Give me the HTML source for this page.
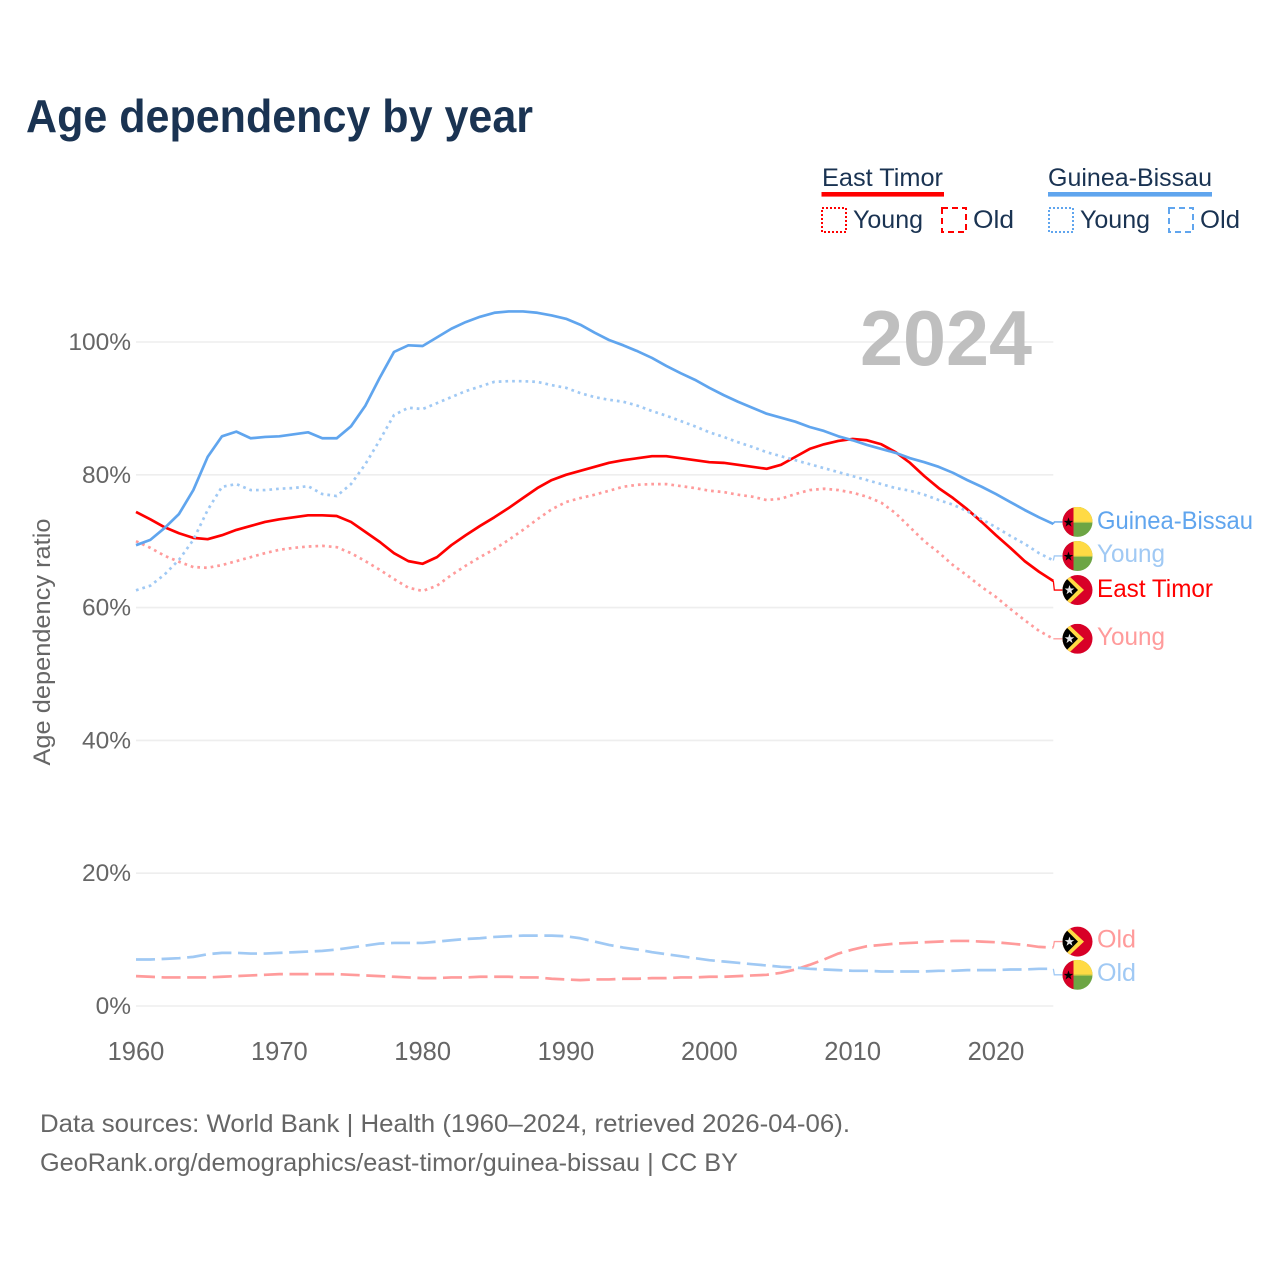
<!DOCTYPE html>
<html lang="en">
<head>
<meta charset="utf-8">
<title>Age dependency by year</title>
<style>
html,body{margin:0;padding:0;background:#fff;}
svg{display:block;font-family:"Liberation Sans",sans-serif;}
</style>
</head>
<body>
<svg id="chart" xmlns="http://www.w3.org/2000/svg" width="1280" height="1280" viewBox="0 0 1280 1280">
<defs>
<clipPath id="flag-clip"><circle cx="0" cy="0" r="15"/></clipPath>
<g id="flag-gb" clip-path="url(#flag-clip)">
<rect x="-15" y="-15" width="30" height="30" fill="#6da544"/>
<rect x="-4" y="-15" width="19" height="15" fill="#ffda44"/>
<rect x="-4" y="0" width="19" height="1" fill="#b9c64a"/>
<rect x="-15" y="-15" width="11" height="30" fill="#d80027"/>
<polygon points="-9,-4.5 -7.8,-1 -4.2,-1 -7.1,1.2 -6,4.7 -9,2.6 -12,4.7 -10.9,1.2 -13.8,-1 -10.2,-1" fill="#000"/>
</g>
<g id="flag-et" clip-path="url(#flag-clip)">
<rect x="-15" y="-15" width="30" height="30" fill="#d80027"/>
<polygon points="-15,-15 -9.5,-15 6.5,0 -9.5,15 -15,15" fill="#ffda44"/>
<polygon points="-15,-15 -14.5,-15 0.5,0 -14.5,15 -15,15" fill="#000"/>
<polygon points="-8,-5 -6.8,-1.5 -3.2,-1.5 -6.1,0.7 -5,4.2 -8,2.1 -11,4.2 -9.9,0.7 -12.8,-1.5 -9.2,-1.5" fill="#e6e6e6"/>
</g>
</defs>

<rect x="0" y="0" width="1280" height="1280" fill="#fff"/>

<text x="26" y="132" font-size="46" font-weight="700" fill="#1a3352" textLength="507" lengthAdjust="spacingAndGlyphs">Age dependency by year</text>

<g font-size="25" fill="#1a3352">
  <text x="822" y="186" textLength="121" lengthAdjust="spacingAndGlyphs">East Timor</text>
  <rect x="821.5" y="192" width="122.5" height="4.6" fill="#ff0000"/>
  <rect x="822" y="208" width="24" height="24" fill="none" stroke="#ff0000" stroke-width="2" stroke-dasharray="2 2"/>
  <text x="853" y="228" textLength="70" lengthAdjust="spacingAndGlyphs">Young</text>
  <rect x="942" y="208" width="24" height="24" fill="none" stroke="#ff0000" stroke-width="2" stroke-dasharray="6 4"/>
  <text x="973" y="228" textLength="41" lengthAdjust="spacingAndGlyphs">Old</text>
  <text x="1048" y="186" textLength="164" lengthAdjust="spacingAndGlyphs">Guinea-Bissau</text>
  <rect x="1048" y="192" width="164" height="4.6" fill="#60a5ee"/>
  <rect x="1049" y="208" width="24" height="24" fill="none" stroke="#60a5ee" stroke-width="2" stroke-dasharray="2 2"/>
  <text x="1080" y="228" textLength="70" lengthAdjust="spacingAndGlyphs">Young</text>
  <rect x="1169" y="208" width="24" height="24" fill="none" stroke="#60a5ee" stroke-width="2" stroke-dasharray="6 4"/>
  <text x="1200" y="228" textLength="40" lengthAdjust="spacingAndGlyphs">Old</text>
</g>

<g id="grid"></g>
<g id="y-ticks"></g>
<g id="x-ticks"></g>

<text x="860" y="365" font-size="78" font-weight="700" fill="#bfbfbf" textLength="172" lengthAdjust="spacingAndGlyphs">2024</text>

<text transform="translate(50,642) rotate(-90)" text-anchor="middle" font-size="24" fill="#666" textLength="247" lengthAdjust="spacingAndGlyphs">Age dependency ratio</text>

<g id="series"></g>

<g id="end-et-total">
  <use href="#flag-et" x="1077.5" y="0"/>
  <text x="1097" y="7" font-size="25" fill="#ff0000" textLength="116" lengthAdjust="spacingAndGlyphs">East Timor</text>
</g>
<g id="end-et-young">
  <use href="#flag-et" x="1077.5" y="0"/>
  <text x="1097" y="6" font-size="25" fill="#ff9b9b" textLength="68" lengthAdjust="spacingAndGlyphs">Young</text>
</g>
<g id="end-et-old">
  <use href="#flag-et" x="1077.5" y="0"/>
  <text x="1097" y="6" font-size="25" fill="#ff9b9b" textLength="39" lengthAdjust="spacingAndGlyphs">Old</text>
</g>
<g id="end-gb-total">
  <use href="#flag-gb" x="1077.5" y="0"/>
  <text x="1097" y="7" font-size="25" fill="#60a5ee" textLength="156" lengthAdjust="spacingAndGlyphs">Guinea-Bissau</text>
</g>
<g id="end-gb-young">
  <use href="#flag-gb" x="1077.5" y="0"/>
  <text x="1097" y="6" font-size="25" fill="#a0c9f4" textLength="68" lengthAdjust="spacingAndGlyphs">Young</text>
</g>
<g id="end-gb-old">
  <use href="#flag-gb" x="1077.5" y="0"/>
  <text x="1097" y="6" font-size="25" fill="#a0c9f4" textLength="39" lengthAdjust="spacingAndGlyphs">Old</text>
</g>

<g font-size="25" fill="#666">
  <text x="40" y="1132" textLength="810" lengthAdjust="spacingAndGlyphs">Data sources: World Bank | Health (1960–2024, retrieved 2026-04-06).</text>
  <text x="40" y="1171" textLength="698" lengthAdjust="spacingAndGlyphs">GeoRank.org/demographics/east-timor/guinea-bissau | CC BY</text>
</g>

<script>
var startYear = 1960;
var xTickYears = [1960, 1970, 1980, 1990, 2000, 2010, 2020];
var yTickValues = [0, 20, 40, 60, 80, 100];

var eastTimorTotal = [74.4,73.3,72.1,71.2,70.5,70.3,70.9,71.7,72.3,72.9,73.3,73.6,73.9,73.9,73.8,72.9,71.4,69.9,68.2,67.0,66.6,67.6,69.4,70.9,72.3,73.6,75.0,76.5,78.0,79.2,80.0,80.6,81.2,81.8,82.2,82.5,82.8,82.8,82.5,82.2,81.9,81.8,81.5,81.2,80.9,81.5,82.7,83.9,84.6,85.1,85.4,85.2,84.6,83.4,81.8,79.8,78.0,76.5,74.8,72.9,70.9,69.0,67.0,65.4,64.0];
var eastTimorYoung = [70.0,69.0,67.8,66.9,66.1,66.0,66.4,67.0,67.6,68.2,68.7,69.0,69.2,69.3,69.1,68.2,67.0,65.7,64.3,63.0,62.5,63.3,64.9,66.3,67.6,68.8,70.2,71.7,73.3,74.8,75.9,76.5,77.0,77.6,78.2,78.5,78.6,78.6,78.3,78.0,77.6,77.4,77.0,76.7,76.2,76.4,77.1,77.7,77.9,77.7,77.3,76.7,75.8,74.2,72.1,70.0,68.3,66.4,64.8,63.1,61.6,59.8,58.1,56.5,55.3];
var eastTimorOld = [4.5,4.4,4.3,4.3,4.3,4.3,4.4,4.5,4.6,4.7,4.8,4.8,4.8,4.8,4.8,4.7,4.6,4.5,4.4,4.3,4.2,4.2,4.3,4.3,4.4,4.4,4.4,4.3,4.3,4.1,4.0,3.9,4.0,4.0,4.1,4.1,4.2,4.2,4.3,4.3,4.4,4.4,4.5,4.6,4.7,5.0,5.5,6.2,7.0,7.9,8.5,9.0,9.2,9.4,9.5,9.6,9.7,9.8,9.8,9.7,9.6,9.4,9.2,8.9,8.8];
var guineaBissauTotal = [69.4,70.2,72.0,74.1,77.7,82.7,85.8,86.5,85.5,85.7,85.8,86.1,86.4,85.5,85.5,87.3,90.4,94.6,98.5,99.5,99.4,100.7,102.0,103.0,103.8,104.4,104.6,104.6,104.4,104.0,103.5,102.6,101.4,100.3,99.5,98.6,97.6,96.4,95.3,94.3,93.1,92.0,91.0,90.1,89.2,88.6,88.0,87.2,86.6,85.8,85.2,84.5,83.9,83.3,82.5,81.9,81.2,80.3,79.2,78.2,77.1,75.9,74.7,73.6,72.6];
var guineaBissauYoung = [62.6,63.3,65.0,67.2,70.2,74.7,78.2,78.6,77.7,77.7,77.9,78.0,78.3,77.1,76.8,78.6,81.6,85.2,89.0,90.1,89.9,90.8,91.7,92.6,93.3,94.0,94.1,94.1,94.0,93.5,93.1,92.3,91.7,91.3,91.0,90.4,89.6,88.9,88.1,87.3,86.4,85.7,84.9,84.2,83.4,82.8,82.2,81.6,81.0,80.4,79.8,79.2,78.6,78.0,77.6,77.0,76.2,75.5,74.5,73.3,72.1,70.8,69.6,68.2,67.1];
var guineaBissauOld = [7.0,7.0,7.1,7.2,7.4,7.8,8.0,8.0,7.9,7.9,8.0,8.1,8.2,8.3,8.5,8.8,9.1,9.4,9.5,9.5,9.5,9.7,9.9,10.1,10.2,10.4,10.5,10.6,10.6,10.6,10.5,10.2,9.7,9.2,8.8,8.5,8.1,7.8,7.5,7.2,6.9,6.7,6.5,6.3,6.1,5.9,5.8,5.6,5.5,5.4,5.3,5.3,5.2,5.2,5.2,5.2,5.3,5.3,5.4,5.4,5.4,5.5,5.5,5.6,5.6];

var SVG_NS = 'http://www.w3.org/2000/svg';
function xScale(year) { return 136 + (year - 1960) * (860 / 60); }
function yScale(value) { return 1006 - value * 6.64; }

var gridGroup = document.getElementById('grid');
var yTickGroup = document.getElementById('y-ticks');
var xTickGroup = document.getElementById('x-ticks');
var seriesGroup = document.getElementById('series');

yTickValues.forEach(function (v) {
  var line = document.createElementNS(SVG_NS, 'line');
  
  
  line.setAttribute('x1', 136);
  line.setAttribute('x2', xScale(2024));
  line.setAttribute('y1', yScale(v));
  line.setAttribute('y2', yScale(v));
  line.setAttribute('stroke', '#eeeeee');
  line.setAttribute('stroke-width', 1.6);
  gridGroup.appendChild(line);
  var label = document.createElementNS(SVG_NS, 'text');
  
  
  label.setAttribute('x', 131);
  label.setAttribute('y', yScale(v) + 8);
  label.setAttribute('text-anchor', 'end');
  label.setAttribute('font-size', 24.5);
  label.setAttribute('fill', '#666');
  label.textContent = v + '%';
  yTickGroup.appendChild(label);
});

xTickYears.forEach(function (year) {
  var label = document.createElementNS(SVG_NS, 'text');
  
  
  label.setAttribute('x', xScale(year));
  label.setAttribute('y', 1060);
  label.setAttribute('text-anchor', 'middle');
  label.setAttribute('font-size', 25.5);
  label.setAttribute('fill', '#666');
  label.textContent = String(year);
  xTickGroup.appendChild(label);
});

function drawSeries(values, name, color, dash, labelId, labelOffset) {
  var d = values.map(function (v, i) {
    return (i ? 'L' : 'M') + xScale(startYear + i).toFixed(2) + ' ' + yScale(v).toFixed(2);
  }).join(' ');
  var path = document.createElementNS(SVG_NS, 'path');
  
  
  path.setAttribute('d', d);
  path.setAttribute('fill', 'none');
  path.setAttribute('stroke', color);
  path.setAttribute('stroke-width', 2.7);
  path.setAttribute('stroke-linejoin', 'round');
  if (dash) path.setAttribute('stroke-dasharray', dash);
  seriesGroup.appendChild(path);

  var endX = xScale(startYear + values.length - 1);
  var endY = yScale(values[values.length - 1]);
  var labelY = endY + labelOffset;
  var connector = document.createElementNS(SVG_NS, 'path');
  
  
  connector.setAttribute('d', 'M' + endX + ' ' + endY + ' L' + (endX + 1) + ' ' + labelY + ' L' + (endX + 9) + ' ' + labelY);
  connector.setAttribute('fill', 'none');
  connector.setAttribute('stroke', color);
  connector.setAttribute('stroke-width', 1.3);
  seriesGroup.appendChild(connector);
  document.getElementById(labelId).setAttribute('transform', 'translate(0,' + labelY + ')');
}

var DOT = '2.7 4';
var DASH = '19 6.6';
drawSeries(eastTimorYoung, 'east-timor-young-line', '#ff9b9b', DOT, 'end-et-young', 0);
drawSeries(eastTimorOld, 'east-timor-old-line', '#ff9b9b', DASH, 'end-et-old', -6);
drawSeries(eastTimorTotal, 'east-timor-total-line', '#ff0000', null, 'end-et-total', 9);
drawSeries(guineaBissauYoung, 'guinea-bissau-young-line', '#a0c9f4', DOT, 'end-gb-young', -4.5);
drawSeries(guineaBissauOld, 'guinea-bissau-old-line', '#a0c9f4', DASH, 'end-gb-old', 6);
drawSeries(guineaBissauTotal, 'guinea-bissau-total-line', '#60a5ee', null, 'end-gb-total', -2);
</script>
</svg>
</body>
</html>
